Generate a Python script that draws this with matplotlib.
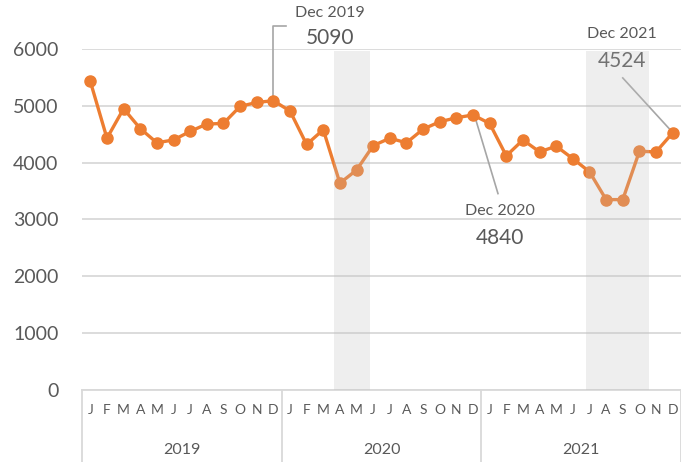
import matplotlib
matplotlib.use('Agg')
import matplotlib.pyplot as plt

plt.rcParams['font.family'] = ['Lato', 'DejaVu Sans']

years = ['2019', '2020', '2021']
month_letters = ['J', 'F', 'M', 'A', 'M', 'J', 'J', 'A', 'S', 'O', 'N', 'D']
values = [5430, 4430, 4950, 4600, 4350, 4400, 4550, 4680, 4690, 4990, 5060, 5090,
          4910, 4320, 4580, 3640, 3870, 4300, 4430, 4350, 4590, 4720, 4790, 4840,
          4690, 4120, 4400, 4190, 4290, 4070, 3840, 3350, 3350, 4200, 4190, 4524]
# shaded periods, in month index units (Jan 2019 = 0)
shaded = [(14.65, 16.8), (29.8, 33.55)]

orange = '#ED7D31'
grey_txt = '#595959'
grid_c = '#D9D9D9'

fig = plt.figure(figsize=(6.81, 4.62), dpi=100)
ax = fig.add_axes([82 / 681, 72 / 462, 599 / 681, 341 / 462])

x = list(range(len(values)))
ax.plot(x, values, color=orange, linewidth=2.4, marker='o', markersize=8, zorder=3)

for a, b in shaded:
    ax.axvspan(a, b, ymin=0, ymax=0.995, color='#BEBEBE', alpha=0.25, lw=0, zorder=4)

ax.set_xlim(-0.5, len(values) - 0.5)
ax.set_ylim(0, 6000)
ax.set_yticks(range(0, 6001, 1000))
ax.yaxis.grid(True, color=grid_c, linewidth=1.3)
ax.set_axisbelow(True)
for s in ['top', 'right', 'left']:
    ax.spines[s].set_visible(False)
ax.spines['bottom'].set_color(grid_c)
ax.spines['bottom'].set_linewidth(1.3)
ax.tick_params(axis='y', length=0, pad=17, labelsize=14, labelcolor=grey_txt)

ax.set_xticks(x)
ax.set_xticklabels(month_letters * len(years))
ax.tick_params(axis='x', length=0, pad=10, labelsize=10, labelcolor=grey_txt)

# year boxes under the months
for i, yr in enumerate(years):
    ax.text(i * 12 + 5.5, -0.176, yr, transform=ax.get_xaxis_transform(),
            ha='center', va='center', fontsize=11.5, color=grey_txt)
for i in range(len(years) + 1):
    xb = i * 12 - 0.5
    ax.plot([xb, xb], [0, -0.215], transform=ax.get_xaxis_transform(),
            color=grid_c, linewidth=1.3, clip_on=False)

# callouts
lead = '#A6A6A6'
ax.plot([11, 11, 11.76], [5090, 6404, 6404], color=lead, lw=1.2, clip_on=False, zorder=2)
ax.plot([23.06, 24.5], [4860, 3456], color=lead, lw=1.2, zorder=2)
ax.plot([32.0, 34.96], [5491, 4544], color=lead, lw=1.2, zorder=2)

callouts = [(14.4, 6632, 6193, 'Dec 2019', 5090),
            (24.62, 3158, 2667, 'Dec 2020', 4840),
            (31.95, 6263, 5789, 'Dec 2021', 4524)]
for cx, y1, y2, lab, v in callouts:
    ax.text(cx, y1, lab, ha='center', va='center', fontsize=11.5, color=grey_txt, clip_on=False)
    ax.text(cx, y2, str(v), ha='center', va='center', fontsize=15, color=grey_txt, clip_on=False)

fig.savefig('out.png', dpi=100)
